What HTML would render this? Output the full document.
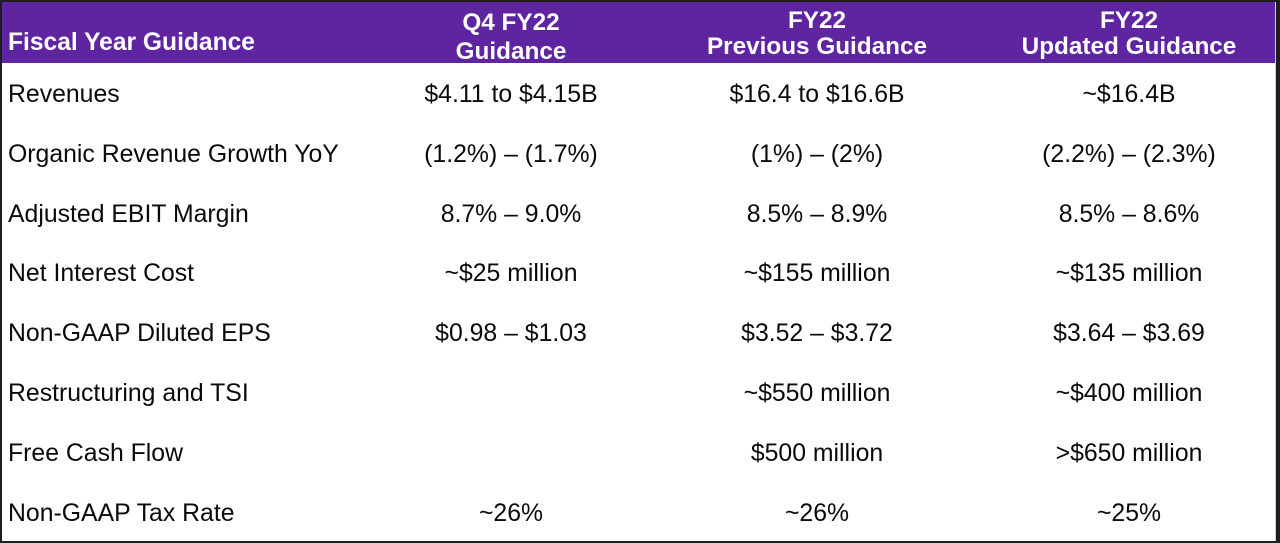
<!DOCTYPE html>
<html>
<head>
<meta charset="utf-8">
<style>
  html, body { margin:0; padding:0; }
  body { width:1280px; height:543px; background:#1e1e1e; position:relative; overflow:hidden;
         font-family:"Liberation Sans", Arial, sans-serif; }
  #frame { position:absolute; left:2px; top:2px; width:1274px; height:539px; background:#ffffff; }
  #edge { position:absolute; left:1275px; top:2px; width:1px; height:539px; background:#cfcfcf; }
  #hdr { position:absolute; left:2px; top:2px; width:1273px; height:61px; background:#5f249f; }
  .h { position:absolute; color:#ffffff; font-weight:bold; font-size:24.3px; line-height:24px; white-space:nowrap; }
  .hc { text-align:center; width:400px; }
  .t { position:absolute; color:#0a0a0a; font-size:24.8px; line-height:24.5px; white-space:nowrap; }
  .c { text-align:center; width:400px; }
</style>
</head>
<body>
<div id="frame"></div>
<div id="hdr"></div>
<div id="edge"></div>

<div class="h" style="left:8px; top:31px; font-size:24.6px; line-height:24.5px;">Fiscal Year Guidance</div>
<div class="h hc" style="left:311px; top:10.5px;">Q4 FY22</div>
<div class="h hc" style="left:311px; top:39.5px;">Guidance</div>
<div class="h hc" style="left:617px; top:8.5px;">FY22</div>
<div class="h hc" style="left:617px; top:35px;">Previous Guidance</div>
<div class="h hc" style="left:929px; top:8.5px;">FY22</div>
<div class="h hc" style="left:929px; top:35px;">Updated Guidance</div>

<!-- Row 0 -->
<div class="t" style="left:8px; top:82.6px;">Revenues</div>
<div class="t c" style="left:311px; top:82.6px;">$4.11 to $4.15B</div>
<div class="t c" style="left:617px; top:82.6px;">$16.4 to $16.6B</div>
<div class="t c" style="left:929px; top:82.6px;">~$16.4B</div>

<!-- Row 1 -->
<div class="t" style="left:8px; top:142.5px;">Organic Revenue Growth YoY</div>
<div class="t c" style="left:311px; top:142.5px;">(1.2%) – (1.7%)</div>
<div class="t c" style="left:617px; top:142.5px;">(1%) – (2%)</div>
<div class="t c" style="left:929px; top:142.5px;">(2.2%) – (2.3%)</div>

<!-- Row 2 -->
<div class="t" style="left:8px; top:202.5px;">Adjusted EBIT Margin</div>
<div class="t c" style="left:311px; top:202.5px;">8.7% – 9.0%</div>
<div class="t c" style="left:617px; top:202.5px;">8.5% – 8.9%</div>
<div class="t c" style="left:929px; top:202.5px;">8.5% – 8.6%</div>

<!-- Row 3 -->
<div class="t" style="left:8px; top:262.4px;">Net Interest Cost</div>
<div class="t c" style="left:311px; top:262.4px;">~$25 million</div>
<div class="t c" style="left:617px; top:262.4px;">~$155 million</div>
<div class="t c" style="left:929px; top:262.4px;">~$135 million</div>

<!-- Row 4 -->
<div class="t" style="left:8px; top:322.3px;">Non-GAAP Diluted EPS</div>
<div class="t c" style="left:311px; top:322.3px;">$0.98 – $1.03</div>
<div class="t c" style="left:617px; top:322.3px;">$3.52 – $3.72</div>
<div class="t c" style="left:929px; top:322.3px;">$3.64 – $3.69</div>

<!-- Row 5 -->
<div class="t" style="left:8px; top:382.3px;">Restructuring and TSI</div>
<div class="t c" style="left:617px; top:382.3px;">~$550 million</div>
<div class="t c" style="left:929px; top:382.3px;">~$400 million</div>

<!-- Row 6 -->
<div class="t" style="left:8px; top:442.2px;">Free Cash Flow</div>
<div class="t c" style="left:617px; top:442.2px;">$500 million</div>
<div class="t c" style="left:929px; top:442.2px;">&gt;$650 million</div>

<!-- Row 7 -->
<div class="t" style="left:8px; top:502.1px;">Non-GAAP Tax Rate</div>
<div class="t c" style="left:311px; top:502.1px;">~26%</div>
<div class="t c" style="left:617px; top:502.1px;">~26%</div>
<div class="t c" style="left:929px; top:502.1px;">~25%</div>
</body>
</html>
